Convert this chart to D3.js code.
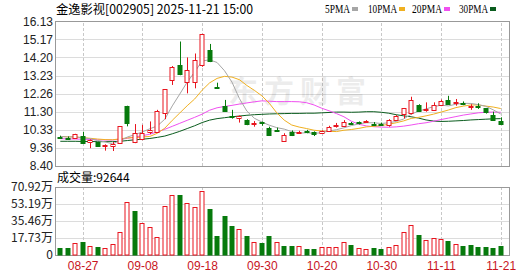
<!DOCTYPE html>
<html>
<head>
<meta charset="utf-8">
<script src="https://cdn.jsdelivr.net/npm/d3@7/dist/d3.min.js"></script>
<style>
body { margin: 0; background: #fff; }
svg text { font-family: 'Liberation Sans', Arial, sans-serif; }
.cjk { font-family: 'Noto Sans CJK SC', 'Liberation Sans', sans-serif; }
</style>
</head>
<body>
<script>
const stock_title = '金逸影视[002905] 2025-11-21 15:00'

const dates = ['08-22','08-25','08-26','08-27','08-28','08-29','09-01','09-02','09-03','09-04',
    '09-05','09-08','09-09','09-10','09-11','09-12','09-15','09-16','09-17','09-18',
    '09-19','09-22','09-23','09-24','09-25','09-26','09-29','09-30','10-09','10-10',
    '10-13','10-14','10-15','10-16','10-17','10-20','10-21','10-22','10-23','10-24',
    '10-27','10-28','10-29','10-30','10-31','11-03','11-04','11-05','11-06','11-07',
    '11-10','11-11','11-12','11-13','11-14','11-17','11-18','11-19','11-20','11-21']

const opens = [9.97, 9.92, 9.88, 10.00, 9.65, 9.66, 9.44, 9.46, 9.63, 11.60,
    9.65, 9.86, 10.22, 10.25, 11.20, 13.03, 13.78, 12.90, 12.90, 13.80,
    14.60, 12.62, 11.60, 11.07, 10.95, 10.86, 10.64, 10.74, 10.42, 10.32,
    9.75, 10.22, 10.18, 10.28, 10.20, 10.16, 10.30, 10.52, 10.56, 10.72,
    10.74, 10.76, 10.62, 10.62, 10.57, 10.86, 11.15, 11.20, 11.66, 11.40,
    11.40, 11.68, 11.93, 11.78, 11.78, 11.55, 11.62, 11.48, 11.15, 10.80]
const highs = [10.02, 9.98, 10.12, 10.23, 9.82, 9.68, 9.56, 9.68, 10.52, 11.62,
    10.64, 10.60, 10.78, 11.40, 12.49, 13.74, 15.05, 14.20, 14.41, 15.46,
    14.92, 12.85, 11.93, 11.40, 11.10, 10.90, 10.80, 10.78, 10.50, 10.45,
    10.15, 10.30, 10.28, 10.33, 10.25, 10.30, 10.55, 10.70, 10.85, 10.75,
    10.78, 10.85, 10.75, 10.72, 10.90, 11.12, 11.50, 12.10, 11.70, 11.80,
    11.80, 11.95, 12.15, 11.98, 11.85, 11.70, 11.75, 11.50, 11.30, 11.00]
const lows = [9.90, 9.82, 9.86, 9.60, 9.35, 9.45, 9.22, 9.20, 9.60, 10.52,
    9.62, 9.78, 10.10, 10.20, 10.90, 12.73, 13.25, 12.28, 12.55, 13.70,
    13.95, 12.60, 11.34, 10.93, 10.72, 10.58, 10.50, 10.55, 10.02, 10.26,
    9.73, 10.00, 10.12, 10.15, 10.00, 10.12, 10.28, 10.45, 10.50, 10.62,
    10.62, 10.73, 10.56, 10.54, 10.50, 10.84, 10.95, 11.15, 11.33, 11.30,
    11.35, 11.60, 11.68, 11.62, 11.65, 11.40, 11.45, 11.20, 10.85, 10.60]
const closes = [9.95, 9.85, 10.10, 9.62, 9.78, 9.47, 9.50, 9.55, 10.52, 10.70,
    10.15, 10.18, 10.32, 11.35, 12.49, 13.70, 13.31, 13.53, 14.05, 15.46,
    14.00, 12.60, 11.34, 11.00, 11.05, 10.63, 10.70, 10.68, 10.07, 10.30,
    10.08, 10.06, 10.24, 10.22, 10.10, 10.28, 10.50, 10.58, 10.76, 10.67,
    10.72, 10.80, 10.60, 10.57, 10.84, 11.08, 11.48, 11.90, 11.36, 11.45,
    11.65, 11.88, 11.70, 11.82, 11.72, 11.60, 11.55, 11.25, 10.90, 10.62]

// volume in 万
const volumes = [7.5, 7.5, 12.6, 13.2, 9.8, 8.8, 7.5, 11.6, 24.0, 55.0,
    46.0, 33.0, 29.0, 19.0, 51.0, 62.6, 62.6, 54.0, 50.5, 66.4,
    48.0, 20.0, 41.0, 30.5, 27.0, 20.0, 13.7, 13.0, 20.0, 13.2,
    9.8, 9.8, 9.8, 6.7, 6.7, 8.8, 8.8, 8.8, 13.7, 10.9,
    7.8, 6.7, 7.3, 6.7, 8.8, 10.9, 24.0, 31.6, 21.2, 15.7,
    17.4, 16.8, 15.0, 11.9, 9.8, 10.9, 8.0, 8.0, 7.0, 9.2644]
const last_volume = 92644

const ma5 = [9.98, 9.95, 9.96, 9.90, 9.86, 9.76, 9.69, 9.58, 9.76, 9.95,
    10.08, 10.22, 10.39, 10.54, 10.90, 11.61, 12.24, 12.88, 13.42, 14.01,
    14.07, 13.93, 13.49, 12.88, 12.00, 11.33, 10.95, 10.75, 10.58, 10.45,
    10.37, 10.24, 10.15, 10.18, 10.14, 10.18, 10.27, 10.34, 10.44, 10.56,
    10.65, 10.71, 10.71, 10.67, 10.71, 10.78, 10.91, 11.17, 11.33, 11.45,
    11.57, 11.65, 11.61, 11.70, 11.75, 11.74, 11.68, 11.59, 11.40, 11.18]
const ma10 = [9.98, 9.96, 9.95, 9.92, 9.88, 9.84, 9.81, 9.80, 9.85, 9.90,
    9.92, 9.95, 9.98, 10.15, 10.42, 10.84, 11.23, 11.62, 11.98, 12.45,
    12.84, 13.08, 13.19, 13.15, 13.01, 12.70, 12.44, 12.15, 11.75, 11.24,
    10.85, 10.59, 10.48, 10.40, 10.31, 10.27, 10.25, 10.24, 10.31, 10.35,
    10.41, 10.49, 10.52, 10.56, 10.63, 10.71, 10.81, 10.94, 11.00, 11.08,
    11.17, 11.28, 11.39, 11.52, 11.60, 11.66, 11.66, 11.60, 11.55, 11.47]
const ma20 = [9.86, 9.85, 9.84, 9.83, 9.82, 9.80, 9.79, 9.79, 9.82, 9.88,
    9.95, 10.02, 10.10, 10.22, 10.36, 10.52, 10.68, 10.84, 11.00, 11.17,
    11.38, 11.51, 11.58, 11.64, 11.71, 11.77, 11.83, 11.88, 11.86, 11.84,
    11.84, 11.84, 11.83, 11.78, 11.66, 11.49, 11.35, 11.20, 11.03, 10.79,
    10.63, 10.54, 10.50, 10.48, 10.47, 10.49, 10.53, 10.59, 10.66, 10.71,
    10.79, 10.88, 10.96, 11.04, 11.12, 11.18, 11.24, 11.27, 11.28, 11.27]
const ma30 = [9.72, 9.72, 9.72, 9.71, 9.71, 9.70, 9.70, 9.70, 9.72, 9.76,
    9.80, 9.83, 9.87, 9.93, 10.00, 10.12, 10.25, 10.40, 10.55, 10.72,
    10.85, 10.93, 10.98, 11.03, 11.07, 11.11, 11.14, 11.16, 11.18, 11.19,
    11.20, 11.21, 11.21, 11.22, 11.22, 11.24, 11.26, 11.28, 11.28, 11.27,
    11.28, 11.30, 11.30, 11.27, 11.22, 11.14, 11.08, 11.03, 10.96, 10.86,
    10.80, 10.78, 10.79, 10.81, 10.83, 10.86, 10.88, 10.90, 10.92, 10.93]

const price_ticks = [8.40, 9.36, 10.33, 11.30, 12.26, 13.23, 14.20, 15.17, 16.13]
const volume_ticks = [0, 17.73, 35.46, 53.19, 70.92]
const date_ticks = ['08-27', '09-08', '09-18', '09-30', '10-20', '10-30', '11-11', '11-21']

const ma_names = ['5PMA', '10PMA', '20PMA', '30PMA']
const ma_colors = ['#a6a6a6', '#f0b020', '#f050f0', '#0a5c1e']

const red = '#e8141e'
const green = '#067a0c'

let body = d3.select('body')

let svg = body.append('svg')
    .attr('width', 530)
    .attr('height', 276)

let plot = {left: 55, right: 509, top: 21.3, bottom: 166}
let vplot = {top: 187, bottom: 255}
let pw = plot.right - plot.left

let xScale = d3.scalePoint().domain(dates).range([60.3, 500.7])
let yScale = d3.scaleLinear().domain([8.40, 16.13]).range([plot.bottom, plot.top])
let vScale = d3.scaleLinear().domain([0, 70.92]).range([vplot.bottom, vplot.top])

// title + legend
svg.append('text')
    .attr('class', 'cjk')
    .attr('x', 56)
    .attr('y', 14)
    .style('font-size', '12.5px')
    .attr('textLength', 197)
    .attr('lengthAdjust', 'spacingAndGlyphs')
    .text(stock_title)

let legend_x = [325, 368, 412, 459]
let legend_w = [25, 29, 30, 29]
let legend = svg.append('g').attr('class', 'legend')
ma_names.forEach((name, i) => {
    legend.append('text')
        .attr('x', legend_x[i])
        .attr('y', 13)
        .attr('textLength', legend_w[i])
        .attr('lengthAdjust', 'spacingAndGlyphs')
        .style('font-family', '\'Liberation Serif\', serif')
        .style('font-size', '12px')
        .text(name)
    legend.append('rect')
        .attr('x', legend_x[i] + legend_w[i] + 2)
        .attr('y', 7)
        .attr('width', 6)
        .attr('height', 4)
        .style('fill', ma_colors[i])
})

// price grid
let yAxis = d3.axisLeft(yScale)
    .tickValues(price_ticks)
    .tickFormat(d3.format('.2f'))
    .tickSize(-pw)
    .tickPadding(2)

let yg = svg.append('g')
    .attr('transform', 'translate(' + plot.left + ',0)')
    .call(yAxis)
yg.select('.domain').remove()
yg.selectAll('line').style('stroke', '#dcdcdc').attr('shape-rendering', 'crispEdges')
yg.selectAll('text').style('font-size', '12px').style('fill', '#222')

let xGrid = d3.axisBottom(xScale)
    .tickValues(date_ticks)
    .tickSize(-(plot.bottom - plot.top))
    .tickFormat('')

let xg = svg.append('g')
    .attr('transform', 'translate(0,' + plot.bottom + ')')
    .call(xGrid)
xg.select('.domain').remove()
xg.selectAll('line').style('stroke', '#c8c8c8').style('stroke-dasharray', '3,2').attr('shape-rendering', 'crispEdges')

// watermark
svg.append('text')
    .attr('class', 'cjk')
    .attr('x', 228)
    .attr('y', 102)
    .style('font-size', '30px')
    .style('font-weight', 'bold')
    .style('letter-spacing', '6px')
    .style('fill', '#000')
    .style('opacity', 0.07)
    .text('东方财富')

// volume grid
let vAxis = d3.axisLeft(vScale)
    .tickValues(volume_ticks)
    .tickFormat(d => d === 0 ? '0' : d3.format('.2f')(d) + '万')
    .tickSize(-pw)
    .tickPadding(2)

let vg = svg.append('g')
    .attr('transform', 'translate(' + plot.left + ',0)')
    .call(vAxis)
vg.select('.domain').remove()
vg.selectAll('line').style('stroke', '#dcdcdc').attr('shape-rendering', 'crispEdges')
vg.selectAll('text').attr('class', 'cjk').style('font-size', '12px').style('fill', '#222')

let dAxis = d3.axisBottom(xScale)
    .tickValues(date_ticks)
    .tickSize(-(vplot.bottom - vplot.top))
    .tickPadding(6)

let dg = svg.append('g')
    .attr('transform', 'translate(0,' + vplot.bottom + ')')
    .call(dAxis)
dg.select('.domain').remove()
dg.selectAll('line').style('stroke', '#c8c8c8').style('stroke-dasharray', '3,2').attr('shape-rendering', 'crispEdges')
dg.selectAll('text').style('font-size', '12px').style('fill', '#c8141e')

svg.append('text')
    .attr('class', 'cjk')
    .attr('x', 57)
    .attr('y', 182)
    .style('font-size', '12px')
    .text('成交量:' + last_volume)

// borders
svg.append('rect')
    .attr('x', plot.left + 0.5).attr('y', plot.top)
    .attr('width', pw - 0.5).attr('height', plot.bottom - plot.top)
    .style('fill', 'none').style('stroke', '#999').attr('shape-rendering', 'crispEdges')
svg.append('rect')
    .attr('x', plot.left + 0.5).attr('y', vplot.top)
    .attr('width', pw - 0.5).attr('height', vplot.bottom - vplot.top)
    .style('fill', 'none').style('stroke', '#999').attr('shape-rendering', 'crispEdges')

// MA lines
let ma_series = [ma5, ma10, ma20, ma30]
let line = d3.line()
    .x((d, i) => xScale(dates[i]))
    .y(d => yScale(d))

ma_series.slice().reverse().forEach((s, k) => {
    svg.append('path')
        .datum(s)
        .attr('d', line)
        .style('fill', 'none')
        .style('stroke', ma_colors[3 - k])
        .style('stroke-width', 1)
})

// candles
let bw = 5
let candles = svg.append('g').attr('class', 'candles')
dates.forEach((d, i) => {
    let cx = Math.round(xScale(d)) + 0.5
    let up = closes[i] >= opens[i]
    let col = up ? red : green
    let yTop = yScale(Math.max(opens[i], closes[i]))
    let yBot = yScale(Math.min(opens[i], closes[i]))
    candles.append('line')
        .attr('x1', cx).attr('x2', cx)
        .attr('y1', yScale(highs[i])).attr('y2', yScale(lows[i]))
        .style('stroke', col)
    candles.append('rect')
        .attr('x', cx - bw / 2)
        .attr('y', Math.round(yTop) + 0.5)
        .attr('width', bw - 1)
        .attr('height', Math.max(Math.round(yBot - yTop), 1))
        .style('fill', up ? '#fff' : green)
        .style('stroke', col)
})

// volume bars
let bars = svg.append('g').attr('class', 'volume')
dates.forEach((d, i) => {
    let cx = Math.round(xScale(d)) + 0.5
    let up = i === 0 ? closes[0] >= opens[0] : closes[i] >= closes[i - 1]
    let y = vScale(volumes[i])
    bars.append('rect')
        .attr('x', cx - bw / 2)
        .attr('y', Math.round(y) + 0.5)
        .attr('width', bw - 1)
        .attr('height', Math.max(Math.round(vplot.bottom - y) - 0.5, 1))
        .style('fill', up ? '#fff' : green)
        .style('stroke', up ? red : green)
})
</script>
</body>
</html>
